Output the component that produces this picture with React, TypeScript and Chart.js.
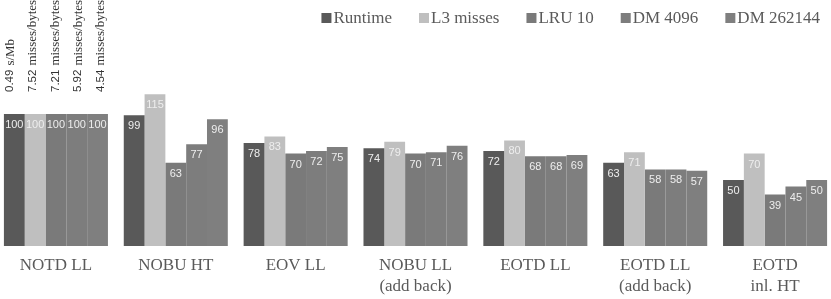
import React, { useEffect, useRef } from "react";
import { Chart, registerables } from "chart.js";

Chart.register(...registerables);

const categories: (string | string[])[] = [
  "NOTD LL",
  "NOBU HT",
  "EOV LL",
  ["NOBU LL", "(add back)"],
  "EOTD LL",
  ["EOTD LL", "(add back)"],
  ["EOTD", "inl. HT"],
];

const seriesNames = ["Runtime", "L3 misses", "LRU 10", "DM 4096", "DM 262144"];
const seriesColors = ["#595959", "#bfbfbf", "#7a7a7a", "#7d7d7d", "#7f7f7f"];

const runtime = [100, 99, 78, 74, 72, 63, 50];
const l3Misses = [100, 115, 83, 79, 80, 71, 70];
const lru10 = [100, 63, 70, 70, 68, 58, 39];
const dm4096 = [100, 77, 72, 71, 68, 58, 45];
const dm262144 = [100, 96, 75, 76, 69, 57, 50];

const baselineNumbers = ["0.49", "7.52", "7.21", "5.92", "4.54"];
const baselineUnits = ["s/Mb", "misses/bytes", "misses/bytes", "misses/bytes", "misses/bytes"];

const SERIF = "'Liberation Serif', 'DejaVu Serif', serif";
const SANS = "'Liberation Sans', Arial, sans-serif";
const TEXT_COLOR = "#5a5a5a";

const legendPlugin = {
  id: "customLegend",
  afterDraw(chart: any) {
    const ctx = chart.ctx;
    ctx.save();
    ctx.font = `17px ${SERIF}`;
    ctx.textBaseline = "middle";
    ctx.textAlign = "left";
    const y = 18;
    let right = 824;
    const gap = 27;
    const box = 10;
    const boxGap = 2;
    const items = chart.data.datasets.map((d: any) => ({
      label: d.label,
      color: d.backgroundColor,
    }));
    for (let i = items.length - 1; i >= 0; i--) {
      const w = ctx.measureText(items[i].label).width;
      const textX = right - w;
      const boxX = textX - boxGap - box;
      ctx.fillStyle = items[i].color;
      ctx.fillRect(boxX, y - box / 2, box, box);
      ctx.fillStyle = TEXT_COLOR;
      ctx.fillText(items[i].label, textX, y + 1);
      right = boxX - gap;
    }
    ctx.restore();
  },
};

const labelPlugin = {
  id: "barLabels",
  afterDatasetsDraw(chart: any) {
    const ctx = chart.ctx;
    ctx.save();
    ctx.font = `11px ${SANS}`;
    ctx.fillStyle = "#eeeeee";
    ctx.textAlign = "center";
    ctx.textBaseline = "middle";
    chart.data.datasets.forEach((ds: any, di: number) => {
      const meta = chart.getDatasetMeta(di);
      meta.data.forEach((bar: any, i: number) => {
        ctx.fillText(String(ds.data[i]), bar.x, bar.y + 11);
      });
    });
    // rotated baseline annotations above the first group
    ctx.textAlign = "left";
    ctx.fillStyle = "#333333";
    chart.data.datasets.forEach((ds: any, di: number) => {
      const bar = chart.getDatasetMeta(di).data[0];
      if (!bar) return;
      ctx.save();
      ctx.translate(bar.x - 4 + di * 1.8, bar.y - 22);
      ctx.rotate(-Math.PI / 2);
      ctx.font = `11.5px ${SANS}`;
      const num = baselineNumbers[di];
      ctx.fillText(num, 0, 0);
      const w = ctx.measureText(num).width + 4;
      ctx.font = `13px ${SERIF}`;
      ctx.fillText(baselineUnits[di], w, 0);
      ctx.restore();
    });
    ctx.restore();
  },
};

export default function App() {
  const canvasRef = useRef<HTMLCanvasElement | null>(null);

  useEffect(() => {
    const values = [runtime, l3Misses, lru10, dm4096, dm262144];
    const chart = new Chart(canvasRef.current as HTMLCanvasElement, {
      type: "bar",
      data: {
        labels: categories,
        datasets: seriesNames.map((name, i) => ({
          label: name,
          data: values[i],
          backgroundColor: seriesColors[i],
          borderWidth: 0,
          categoryPercentage: 0.868,
          barPercentage: 1,
        })),
      },
      options: {
        animation: false,
        responsive: true,
        maintainAspectRatio: false,
        layout: { padding: { top: 48, bottom: 0, left: 0, right: 0 } },
        plugins: {
          legend: { display: false },
          tooltip: { enabled: false },
        },
        scales: {
          x: {
            grid: { display: false, drawTicks: false },
            border: { display: false },
            afterFit(scale: any) {
              scale.height = 53;
            },
            ticks: {
              padding: 10,
              color: TEXT_COLOR,
              font: { family: SERIF, size: 17, lineHeight: 1.18 },
              maxRotation: 0,
              autoSkip: false,
            },
          },
          y: {
            display: false,
            min: 0,
            max: 150,
          },
        },
      },
      plugins: [labelPlugin, legendPlugin],
    });
    return () => chart.destroy();
  }, []);

  return (
    <div style={{ position: "fixed", left: -4, top: 0, width: 839, height: 299 }}>
      <canvas ref={canvasRef} />
    </div>
  );
}
